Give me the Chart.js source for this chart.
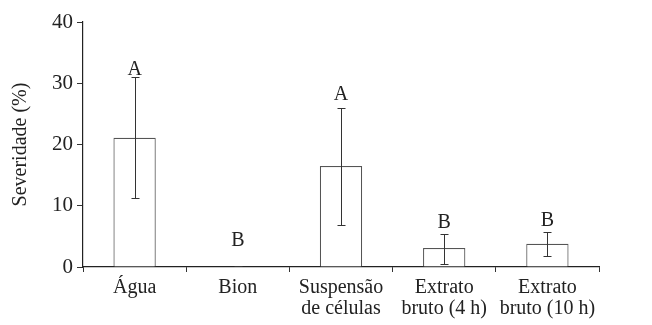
<!DOCTYPE html>
<html>
<head>
<meta charset="utf-8">
<script src="https://cdn.jsdelivr.net/npm/chart.js@4"></script>
<style>
  html, body { margin: 0; padding: 0; background: #fff; }
</style>
</head>
<body>
<canvas id="chart-canvas" width="652" height="325"></canvas>
<script>
// data
var categories = ["Água", "Bion", ["Suspensão", "de células"], ["Extrato", "bruto (4 h)"], ["Extrato", "bruto (10 h)"]];
var severity = [21.1, 0, 16.5, 3.1, 3.8];
var errLow = [11.2, 0, 6.9, 0.5, 1.8];
var errHigh = [31.0, 0, 25.9, 5.4, 5.7];
var letters = ["A", "B", "A", "B", "B"];
var letterAt = [31.3, 3.4, 27.3, 6.4, 6.7];
var yTicks = [0, 10, 20, 30, 40];

var serif = "'Liberation Serif', 'Times New Roman', serif";

// draws the error bars and the letters of the test
var errorBars = {
  id: "errorBars",
  afterDatasetsDraw: function(chart) {
    var ctx = chart.ctx;
    var meta = chart.getDatasetMeta(0);
    var y = chart.scales.y;
    ctx.save();
    ctx.strokeStyle = "#333";
    ctx.lineWidth = 1;
    meta.data.forEach(function(bar, i) {
      var x = Math.round(bar.x) + 0.5;
      if (errHigh[i] > errLow[i]) {
        var top = Math.round(y.getPixelForValue(errHigh[i])) + 0.5;
        var bot = Math.round(y.getPixelForValue(errLow[i])) + 0.5;
        ctx.beginPath();
        ctx.moveTo(x, top); ctx.lineTo(x, bot);
        ctx.moveTo(x - 4, top); ctx.lineTo(x + 4, top);
        ctx.moveTo(x - 4, bot); ctx.lineTo(x + 4, bot);
        ctx.stroke();
      } else {
        // tiny mark on the zero line
        ctx.beginPath();
        ctx.moveTo(x - 4, y.getPixelForValue(0) - 0.5); ctx.lineTo(x + 4, y.getPixelForValue(0) - 0.5);
        ctx.stroke();
      }
      ctx.fillStyle = "#222";
      ctx.font = "20px " + serif;
      ctx.textAlign = "center";
      ctx.textBaseline = "alphabetic";
      ctx.fillText(letters[i], bar.x, y.getPixelForValue(letterAt[i]));
    });
    ctx.restore();
  }
};

var ctx = document.getElementById("chart-canvas");
var chartCanvas = new Chart(ctx, {
  type: "bar",
  data: {
    labels: categories,
    datasets: [{
      data: severity,
      backgroundColor: "#ffffff",
      borderColor: "#555",
      borderWidth: 1.2,
      categoryPercentage: 1,
      barPercentage: 0.41
    }]
  },
  options: {
    responsive: false,
    animation: false,
    layout: { padding: { top: 22, right: 53, bottom: 0, left: 0 } },
    plugins: { legend: { display: false }, tooltip: { enabled: false } },
    scales: {
      x: {
        offset: true,
        grid: { offset: true, drawOnChartArea: false, drawTicks: true, tickLength: 5, color: "#333" },
        border: { color: "#222", width: 1.2 },
        ticks: { color: "#222", font: { family: serif, size: 20, lineHeight: 1.05 }, padding: 5, maxRotation: 0 },
        afterFit: function(s) { s.height = 58; }
      },
      y: {
        min: 0,
        max: 40,
        afterBuildTicks: function(s) { s.ticks = yTicks.map(function(v) { return { value: v }; }); },
        grid: { drawOnChartArea: false, drawTicks: true, tickLength: 6, color: "#333" },
        border: { color: "#222", width: 1.2 },
        ticks: { color: "#222", font: { family: serif, size: 21 }, padding: 4 },
        title: { display: true, text: "Severidade (%)", color: "#222", font: { family: serif, size: 20 }, padding: 9 },
        afterFit: function(s) { s.width = 83; }
      }
    }
  },
  plugins: [errorBars]
});
</script>
</body>
</html>
